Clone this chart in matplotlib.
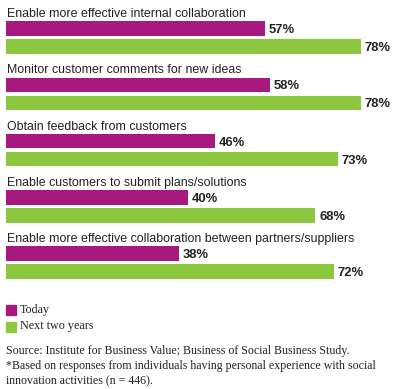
import matplotlib.pyplot as plt
from matplotlib.patches import Rectangle

categories = ["Enable more effective internal collaboration",
              "Monitor customer comments for new ideas",
              "Obtain feedback from customers",
              "Enable customers to submit plans/solutions",
              "Enable more effective collaboration between partners/suppliers"]
today = [57, 58, 46, 40, 38]
next_two = [78, 78, 73, 68, 72]

magenta = "#A8197F"
green = "#8DC63F"

W, H = 399, 389
fig = plt.figure(figsize=(W / 100, H / 100), dpi=100)

# bar area: x in percent, y in pixel rows from top
ax = fig.add_axes([6 / W, 0, 1 - 6 / W, 1])
ax.set_xlim(0, (W - 6) / 4.55)
ax.set_ylim(H, 0)
ax.axis("off")

step = 56.3
bh = 14.5
for i, cat in enumerate(categories):
    top = 14 + i * step
    ax.text(0.2, top, cat, fontsize=8.9, family="Liberation Sans",
            va="center", ha="left", color="#222222")
    y1 = top + 14.5
    y2 = top + 32.5
    ax.barh(y1, today[i], height=bh, color=magenta, left=0)
    ax.barh(y2, next_two[i], height=bh, color=green, left=0)
    ax.text(today[i] + 0.8, y1 + 1.5, f"{today[i]}%", fontsize=9.4, weight="bold",
            family="Liberation Sans", va="center", ha="left", color="#222222")
    ax.text(next_two[i] + 0.8, y2 + 1.5, f"{next_two[i]}%", fontsize=9.4, weight="bold",
            family="Liberation Sans", va="center", ha="left", color="#222222")

# legend
fig.patches.append(Rectangle((6 / W, 1 - 315 / H), 10 / W, 10 / H,
                             transform=fig.transFigure, color=magenta))
fig.patches.append(Rectangle((6 / W, 1 - 331.5 / H), 10 / W, 10 / H,
                             transform=fig.transFigure, color=green))
fig.text(20 / W, 1 - 309.5 / H, "Today", fontsize=8.7, family="Liberation Serif",
         va="center", color="#222222")
fig.text(20 / W, 1 - 326 / H, "Next two years", fontsize=8.7, family="Liberation Serif",
         va="center", color="#222222")

notes = ["Source: Institute for Business Value; Business of Social Business Study.",
         "*Based on responses from individuals having personal experience with social",
         "innovation activities (n = 446)."]
for k, line in enumerate(notes):
    fig.text(6 / W, 1 - (351 + k * 15) / H, line, fontsize=8.6, family="Liberation Serif",
             va="center", color="#222222")

fig.savefig("out.png", dpi=100)
